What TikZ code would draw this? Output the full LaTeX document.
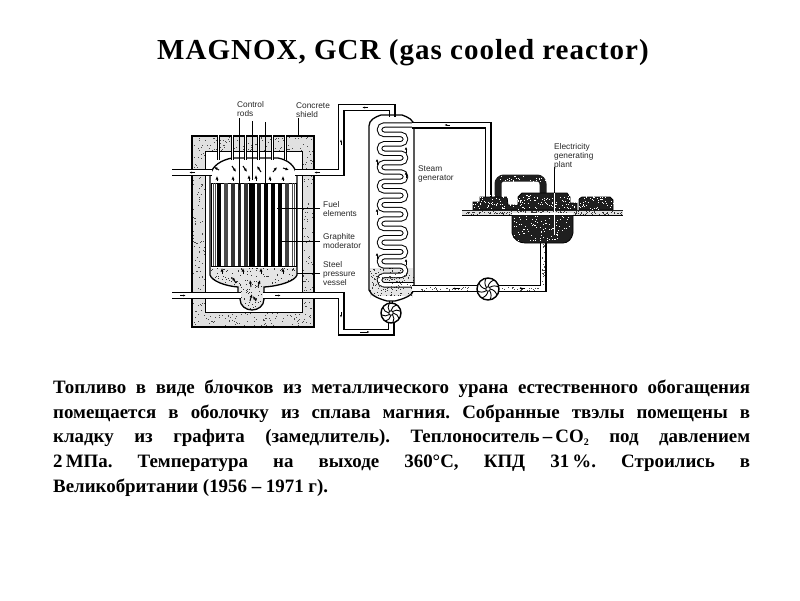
\documentclass[tikz,border=0pt]{standalone}
\usepackage{fontspec}
\setmainfont{Liberation Serif}
\newfontfamily\labelfont{Liberation Sans}
\newfontfamily\titlefont[LetterSpace=3.5]{Liberation Serif Bold}
\usetikzlibrary{arrows.meta}
\newcommand{\speck}[6]{\foreach \i in {1,...,#5}{\pgfmathsetmacro\px{#1+rnd*(#3-#1)}\pgfmathsetmacro\py{#2+rnd*(#4-#2)}\fill[#6] (\px,\py) rectangle ++(1,1);}}
\newcommand{\fan}[3]{%
  \draw[line width=1.4pt,fill=white] (#1,#2) circle (#3);
  \begin{scope}[shift={(#1,#2)}]
  \foreach \a in {0,45,...,315}{\draw[line width=.9pt] (\a:2.2) to[bend left=30] (\a+35:#3);}
  \end{scope}
  \draw[line width=.9pt,fill=white] (#1,#2) circle (2.2);
}
\tikzset{
  x=1pt,y=-1pt,
  wall/.style={line width=1.3pt,draw=black},
  thin line/.style={line width=.6pt,draw=black},
  pipe/.style={line width=1.2pt,draw=black,double=white,double distance=4.6pt},
  gasarrow/.style={line width=1pt,-{Latex[length=3.5pt,width=3pt]}},
  flow/.style={line width=.6pt,-{Latex[length=3pt,width=2pt]}},
  tag/.style={font=\labelfont\fontsize{8.3}{8.9}\selectfont,align=left,anchor=north west,inner sep=0pt,text=black!85},
  dark/.style={fill=black!88,draw=black,line width=.8pt}
}
\begin{document}
\begin{tikzpicture}
\useasboundingbox (0,0) rectangle (800,600);
\pgfmathsetseed{7}
\node[inner sep=0pt] (title) at (403,52.5) {\titlefont\fontsize{29}{32}\selectfont MAGNOX, GCR (gas cooled reactor)};
\node[anchor=north west,inner sep=0pt,text width=697pt,align=justify] (body) at (53,380)
 {\fontsize{18.9}{24.6}\selectfont\bfseries\frenchspacing Топливо в виде блочков из металлического урана естественного обогащения\linebreak
 помещается в оболочку из сплава магния. Собранные твэлы помещены в\linebreak
 кладку из графита (замедлитель). Теплоноситель\,–\,СО\raisebox{-3pt}{\fontsize{10}{10}\selectfont 2} под давлением\linebreak
 2\,МПа. Температура на выходе 360°С, КПД 31\,\%. Строились в\linebreak
 Великобритании (1956 – 1971 г).\par};
% concrete shield
\fill[black!12] (192,136) rectangle (314,327);
\speck{192}{136}{314}{327}{1300}{black!72}
\fill[white] (205,151) rectangle (302,312);
\draw[line width=1.8pt] (192,136) rectangle (314,327);
\draw[thin line] (205,151) rectangle (302,312);
% vessel
\begin{scope}
\clip (210,268) -- (297,268) -- (297,275) .. controls (295,281) and (280,286) .. (264,287) -- (264,300) .. controls (264,306) and (258,310) .. (252,310) .. controls (246,310) and (240,306) .. (240,300) -- (238,287) .. controls (225,286) and (212,281) .. (210,275) -- cycle;
\fill[black!10] (205,265) rectangle (300,312);
\speck{210}{266}{297}{312}{230}{black!80}
\end{scope}
\draw[wall] (238,292) -- (238,287) .. controls (225,286) and (212,281) .. (210,275) -- (210,176)
  .. controls (212,165) and (222,160) .. (232,158) -- (278,158) .. controls (288,160) and (295,165) .. (297,176)
  -- (297,275) .. controls (295,281) and (280,286) .. (264,287) -- (264,292);
\draw[wall] (240,299) .. controls (240,306) and (246,310) .. (252,310) .. controls (258,310) and (264,306) .. (264,299);
% standpipes
\foreach \x in {218,232,245,258,272,285}{
  \fill[white] (\x-1.2,135) rectangle (\x+1.2,160);
  \draw[thin line] (\x-1.2,135) -- (\x-1.2,160) (\x+1.2,135) -- (\x+1.2,160);
}
% core
\draw[thin line] (211,183) rectangle (296,266);
\foreach \x in {213,215,292,294}{\draw[line width=.6pt,black!70] (\x,183) -- (\x,266);}
\foreach \x/\w/\c in {219/3.6/black,226/3.6/black!70,233/3.6/black!80,239.5/3.6/black!85,246/4/black!80,252/5.5/black,259/3.6/black!90,266/4.5/black,273/3.6/black,280/4/black,287/3.6/black!75}{
  \fill[\c] (\x-\w/2,183) rectangle (\x+\w/2,266);
}
% control rods and leaders
\draw[line width=.8pt] (239,118) -- (239,190);
\draw[line width=.8pt] (252,121) -- (252,180);
\draw[line width=.8pt] (265,122) -- (265,185);
\draw[thin line] (298,118) -- (298,136);
\draw[thin line] (277,208) -- (320,208);
\draw[thin line] (280,241) -- (320,241);
\draw[thin line] (297,273) -- (320,273);
% gas arrows
\foreach \a/\b/\c/\d in {219/170/214/167, 232/166/236/172, 243/166/247/172, 261/172/257/166, 273/172/277/167, 283/168/289/170,
  217/181/217/176, 233/181/233/176, 249/181/249/175, 256/181/256/175, 270/181/270/176, 283/181/283/176,
  222/274/222/268, 243/274/243/268, 261/274/261/268, 283/274/283/268, 236/283/232/277, 251/287/250/280, 258/287/260/280, 250/301/252/294, 256/301/253/296}{
  \draw[gasarrow] (\a,\b) -- (\c,\d);
}
% reactor pipes
\draw[pipe] (172,172.5) -- (212,172.5);
\draw[pipe] (295,172.5) -- (341,172.5) -- (341,107.5) -- (392,107.5) -- (392,117);
\draw[pipe] (172,295.5) -- (241,295.5);
\draw[pipe] (263,295.5) -- (341,295.5) -- (341,332) -- (391,332) -- (391,322);
\draw[flow] (195,172.5) -- (189,172.5);
\draw[flow] (320,172.5) -- (314,172.5);
\draw[flow] (341,145) -- (341,139);
\draw[flow] (368,107.5) -- (362,107.5);
\draw[flow] (180,295.5) -- (186,295.5);
\draw[flow] (275,295.5) -- (281,295.5);
\draw[flow] (341,312) -- (341,318);
\draw[flow] (360,332) -- (370,332);
% steam generator
\fill[black!10] (370,268) rectangle (413,298);
\speck{370}{268}{413}{298}{130}{black!80}
\draw[line width=5.4pt,rounded corners=4.6pt]
  (414,125) -- (379.5,125) -- (379.5,134.4) -- (405.5,134.4) -- (405.5,143.8) -- (379.5,143.8) -- (379.5,153.2) -- (405.5,153.2) -- (405.5,162.6) -- (379.5,162.6) -- (379.5,172) -- (405.5,172) -- (405.5,181.4) -- (379.5,181.4) -- (379.5,190.8) -- (405.5,190.8) -- (405.5,200.2) -- (379.5,200.2) -- (379.5,209.6) -- (405.5,209.6) -- (405.5,219) -- (379.5,219) -- (379.5,228.4) -- (405.5,228.4) -- (405.5,237.8) -- (379.5,237.8) -- (379.5,247.2) -- (405.5,247.2) -- (405.5,256.6) -- (379.5,256.6) -- (379.5,266) -- (405.5,266) -- (405.5,275.4) -- (379.5,275.4) -- (379.5,284.8) -- (414,284.8);
\draw[line width=3.4pt,white,rounded corners=4.6pt]
  (414,125) -- (379.5,125) -- (379.5,134.4) -- (405.5,134.4) -- (405.5,143.8) -- (379.5,143.8) -- (379.5,153.2) -- (405.5,153.2) -- (405.5,162.6) -- (379.5,162.6) -- (379.5,172) -- (405.5,172) -- (405.5,181.4) -- (379.5,181.4) -- (379.5,190.8) -- (405.5,190.8) -- (405.5,200.2) -- (379.5,200.2) -- (379.5,209.6) -- (405.5,209.6) -- (405.5,219) -- (379.5,219) -- (379.5,228.4) -- (405.5,228.4) -- (405.5,237.8) -- (379.5,237.8) -- (379.5,247.2) -- (405.5,247.2) -- (405.5,256.6) -- (379.5,256.6) -- (379.5,266) -- (405.5,266) -- (405.5,275.4) -- (379.5,275.4) -- (379.5,284.8) -- (414,284.8);
\speck{372}{272}{410}{288}{50}{black!70}
\fill[white] (371,296) -- (412,296) -- (414,304) -- (369,304) -- cycle;
\draw[wall] (369,290) -- (369,126) .. controls (369,120) and (375,117) .. (381,115) -- (402,115) .. controls (408,117) and (414,120) .. (414,126) -- (414,290)
  .. controls (412,296) and (403,299) .. (395,301) -- (387,301) .. controls (380,299) and (371,296) .. (369,290);
\fan{391}{313}{10}
\draw[line width=.8pt] (389.5,301) -- (389.5,303) (392.5,301) -- (392.5,303);
\foreach \x/\y in {406/150,377/162,377/212,406/175,377/256,406/262}{\draw[line width=1pt,-{Latex[length=2.5pt,width=2.5pt]}] (\x,\y+3) -- (\x,\y-3);}
% steam and feed pipes
\draw[pipe] (412,125) -- (488,125) -- (488,197);
\draw[flow] (450,125) -- (444,125);
\draw[pipe] (412,288.5) -- (478,288.5);
\draw[pipe] (498,288.5) -- (543,288.5) -- (543,241);
\speck{420}{287}{476}{290}{30}{black!70}
\speck{500}{287}{541}{290}{25}{black!70}
\speck{542}{244}{544}{286}{25}{black!70}
\fan{488}{289}{11}
\draw[flow] (460,288.5) -- (452,288.5);
\draw[flow] (525,288.5) -- (519,288.5);
% generating plant
\draw[line width=7pt,black!88,rounded corners=6pt] (498,199) -- (498,178) -- (543,178) -- (543,199);
\path[dark] (473,210) -- (473,202) -- (480,202) -- (480,197) -- (507,197) -- (508,205) -- (518,205) -- (518,197) -- (522,193) -- (567,193) -- (570,197) -- (570,203) -- (577,203) -- (577,210) -- cycle;
\path[dark] (579,210) -- (579,199) -- (582,197) -- (610,197) -- (613,200) -- (613,210) -- cycle;
\path[dark] (512,215) -- (512,233) .. controls (513,239) and (519,243) .. (525,243) -- (563,243) .. controls (568,243) and (572,239) .. (573,233) -- (573,215) -- cycle;
\speck{473}{195}{613}{209}{220}{white}
\speck{514}{216}{571}{240}{90}{white}
\speck{494}{175}{547}{181}{28}{white}
\draw[line width=1pt,black!88] (462,210) -- (623,210);
\fill[black!12] (462,210.5) rectangle (623,215);
\speck{462}{211}{622}{214}{170}{black!80}
\fill[white] (512,213) rectangle (573,215);
\draw[line width=.7pt] (462,215) -- (512,215) (573,215) -- (623,215);
\draw[thin line] (554.5,167) -- (554.5,193);
\draw[line width=.6pt,white] (554.5,193) -- (554.5,235);
% labels
\node[tag] (lrods) at (237,101.5) {Control\\rods};
\node[tag] (lshield) at (296,102.5) {Concrete\\shield};
\node[tag] (lfuel) at (323,201.5) {Fuel\\elements};
\node[tag] (lgraph) at (323,233.5) {Graphite\\moderator};
\node[tag] (lsteel) at (323,261) {Steel\\pressure\\vessel};
\node[tag] (lsg) at (418,166) {Steam\\generator};
\node[tag] (lplant) at (554,143) {Electricity\\generating\\plant};
\end{tikzpicture}
\end{document}
